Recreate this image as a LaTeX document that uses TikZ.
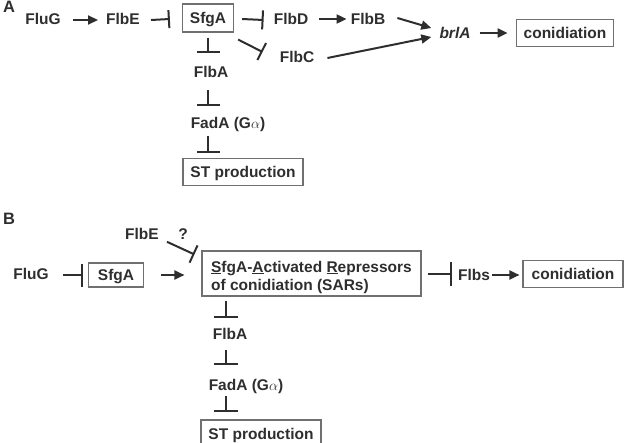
\documentclass[tikz,border=0pt]{standalone}
\usepackage{fontspec}
\setmainfont{Liberation Sans}
\usetikzlibrary{arrows.meta,calc}
\definecolor{ink}{HTML}{2E2E2E}
\definecolor{frame}{HTML}{707070}
\begin{document}
\begin{tikzpicture}[x=1pt,y=-1pt,
  fnt/.style={font=\fontsize{15.5}{18}\selectfont\bfseries, text=ink, inner sep=0pt},
  lbl/.style={fnt, text height=11.2pt, text depth=0pt},
  boxn/.style={lbl, draw=frame, line width=1.1pt, inner xsep=7.5pt, minimum height=27pt},
  panel/.style={lbl, font=\fontsize{16.5}{17}\selectfont\bfseries},
  conn/.style={draw=ink, line width=2pt},
  act/.style={conn, -{Triangle[length=10pt,width=9pt]}},
  inh/.style={conn, -{Bar[width=#1]}}, inh/.default=20pt
]
\useasboundingbox (0,0) rectangle (632,442);

% ---------- Panel A ----------
\node[panel] (labA) at (9,7) {A};
\node[lbl] (aFluG) at (43,19) {FluG};
\node[lbl] (aFlbE) at (123,19) {FlbE};
\node[boxn, minimum height=28pt] (aSfgA) at (208,18) {SfgA};
\node[lbl] (aFlbD) at (291,19) {FlbD};
\node[lbl] (aFlbB) at (368,19) {FlbB};
\node[lbl, font=\fontsize{15.5}{18}\selectfont\bfseries\itshape] (abrlA) at (455,33) {brlA};
\node[boxn] (aCon) at (565,33) {conidiation};
\node[lbl] (aFlbC) at (297,57) {FlbC};
\node[lbl] (aFlbA) at (211,72) {FlbA};
\node[lbl] (aFadA) at (228,123) {FadA (G$\alpha$)};
\node[boxn] (aST) at (243,172) {ST production};

\draw[act] ($(aFluG.east)+(12,1)$) -- ($(aFlbE.west)+(-8,1)$);
\draw[inh=18pt] ($(aFlbE.east)+(11,1)$) -- ($(aSfgA.west)+(-12,1)$);
\draw[inh=19pt] ($(aSfgA.east)+(8,1)$) -- ($(aFlbD.west)+(-10,1)$);
\draw[inh=19pt] ($(aSfgA.south east)+(4,7)$) -- ($(aFlbC.west)+(-17,-5)$);
\draw[inh=23pt] ($(aSfgA.south)+(0,5)$) -- ($(aSfgA.south |- aFlbA.north)+(0,-13)$);
\draw[inh=23pt] ($(aSfgA.south |- aFlbA.south)+(0,12)$) -- ($(aSfgA.south |- aFadA.north)+(0,-11)$);
\draw[inh=23pt] ($(aSfgA.south |- aFadA.south)+(0,7)$) -- ($(aSfgA.south |- aST.north)+(0,-5)$);
\draw[act] ($(aFlbD.east)+(11,0)$) -- ($(aFlbB.west)+(-4,0)$);
\draw[act] ($(aFlbB.east)+(12,-1)$) -- ($(abrlA.west)+(-8,-5)$);
\draw[act] ($(aFlbC.east)+(13,1)$) -- ($(abrlA.west)+(-8,4)$);
\draw[act] ($(abrlA.east)+(9,0)$) -- ($(aCon.west)+(-8,0)$);

% ---------- Panel B ----------
\node[panel] (labB) at (9,219) {B};
\node[lbl] (bFlbE) at (142,234) {FlbE};
\node[lbl] (bQ) at (183,234) {?};
\node[lbl] (bFluG) at (31,274) {FluG};
\node[boxn, minimum height=24pt, minimum width=55pt] (bSfgA) at (116,275) {SfgA};
\node[draw=frame, line width=1.1pt, minimum width=219pt, minimum height=45pt, inner sep=0pt] (bSAR) at (311.5,273.5) {};
\node[fnt, align=left] (bSARtxt) at (311.5,277) {\underline{S}fgA-\underline{A}ctivated \underline{R}epressors\\of conidiation (SARs)};
\node[lbl] (bFlbs) at (474,275) {Flbs};
\node[boxn, minimum width=100pt] (bCon) at (573,274) {conidiation};
\node[lbl] (bFlbA) at (230,334) {FlbA};
\node[lbl] (bFadA) at (246,385) {FadA (G$\alpha$)};
\node[boxn] (bST) at (261,433.5) {ST production};

\draw[inh=23pt] ($(bFluG.east)+(14,1)$) -- ($(bSfgA.west)+(-5,0)$);
\draw[act] ($(bSfgA.east)+(17,0)$) -- ($(bSAR.west)+(-17,1.5)$);
\draw[inh=19pt] ($(bFlbE.south east)+(8,2)$) -- ($(bSAR.north west)+(-7,4)$);
\draw[inh=24pt] ($(bSAR.east)+(6,0.5)$) -- ($(bFlbs.west)+(-6,-1)$);
\draw[act] ($(bFlbs.east)+(2,0)$) -- ($(bCon.west)+(-3,1)$);
\draw[inh=24pt] ($(bSAR.south -| bFlbA.north)+(-4,4)$) -- ($(bFlbA.north)+(-4,-10)$);
\draw[inh=24pt] ($(bFlbA.south)+(-4,10)$) -- ($(bFlbA.south |- bFadA.north)+(-4,-14)$);
\draw[inh=24pt] ($(bFlbA.south |- bFadA.south)+(-4,5)$) -- ($(bFlbA.south |- bST.north)+(-4,-7)$);
\end{tikzpicture}
\end{document}
